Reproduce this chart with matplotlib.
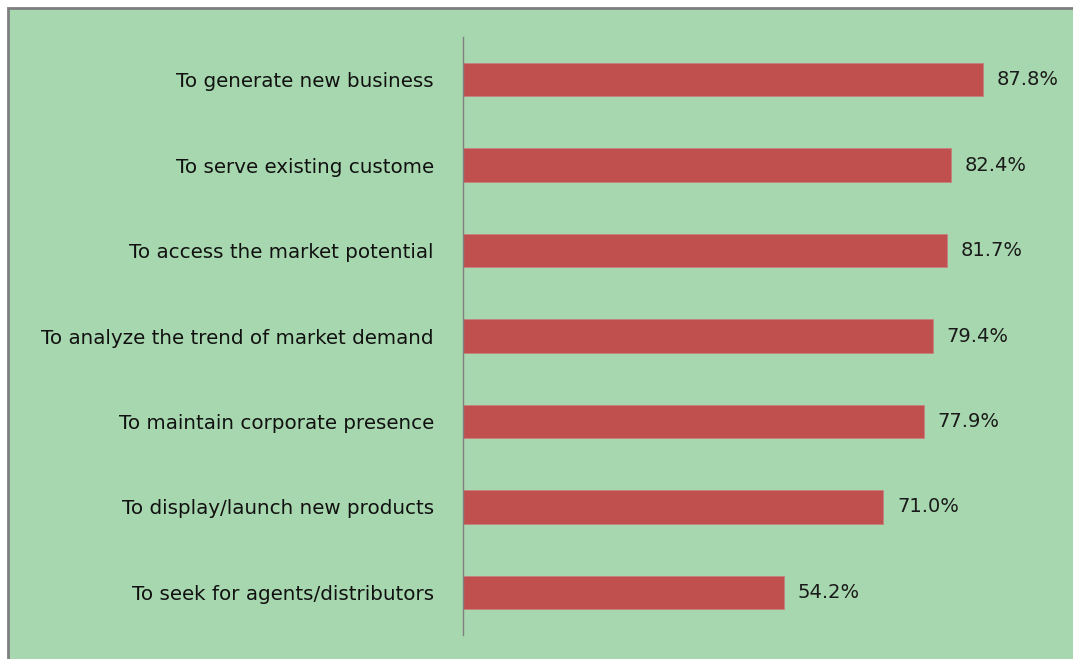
import matplotlib.pyplot as plt
from matplotlib.patches import Rectangle

labels = ["To generate new business", "To serve existing custome",
          "To access the market potential", "To analyze the trend of market demand",
          "To maintain corporate presence", "To display/launch new products",
          "To seek for agents/distributors"]
values = [87.8, 82.4, 81.7, 79.4, 77.9, 71.0, 54.2]

W, H = 1073, 659
fig = plt.figure(figsize=(W / 100, H / 100), dpi=100)
fig.patch.set_facecolor("white")

# green panel with grey edge on top/left
panel = Rectangle((8 / W, -0.05), 1.1, (H - 8) / H + 0.05, transform=fig.transFigure,
                  facecolor="#a7d7ae", edgecolor="#7f7f7f", linewidth=2, zorder=-5)
fig.patches.append(panel)

ax = fig.add_axes([463 / W, (H - 635) / H, (1055 - 463) / W, (635 - 37) / H])
ax.set_facecolor("none")

ypos = list(range(len(labels)))
ax.barh(ypos, values, height=0.39, color="#c0504d", edgecolor="#c88080", linewidth=0.6)
ax.set_xlim(0, 100)
ax.set_ylim(len(labels) - 0.5, -0.5)

for y, v in zip(ypos, values):
    ax.text(v + 2.3, y, f"{v:.1f}%", va="center", ha="left", fontsize=14,
            family="DejaVu Sans", color="#1a1a1a")

ax.set_yticks(ypos)
ax.set_yticklabels(labels, fontsize=14.3, family="DejaVu Sans", color="#111111")
ax.tick_params(axis="y", length=0, pad=21)
ax.set_xticks([])
for s in ["top", "right", "bottom"]:
    ax.spines[s].set_visible(False)
ax.spines["left"].set_color("#808080")
ax.spines["left"].set_linewidth(1)

fig.savefig("out.png", dpi=100)
